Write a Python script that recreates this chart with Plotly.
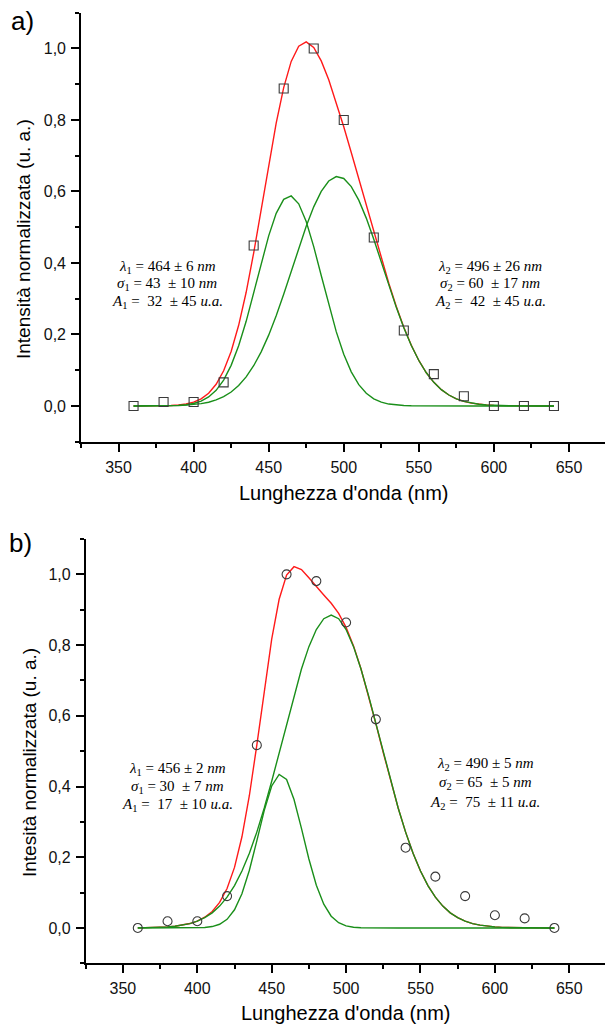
import plotly.graph_objects as go

W, H = 605, 1025

# ---------------- data ----------------
wl_pts = [360, 380, 400, 420, 440, 460, 480, 500, 520, 540, 560, 580, 600, 620, 640]
a_pts = [0.000, 0.011, 0.011, 0.066, 0.449, 0.888, 1.000, 0.800, 0.471, 0.211, 0.089, 0.027, 0.000, 0.000, 0.000]
b_pts = [0.000, 0.019, 0.019, 0.090, 0.517, 1.000, 0.981, 0.864, 0.590, 0.227, 0.145, 0.090, 0.036, 0.027, 0.000]

wl_fit = [360, 365, 370, 375, 380, 385, 390, 395, 400, 405, 410, 415, 420, 425, 430, 435, 440, 445, 450,
          455, 460, 465, 470, 475, 480, 485, 490, 495, 500, 505, 510, 515, 520, 525, 530, 535, 540, 545,
          550, 555, 560, 565, 570, 575, 580, 585, 590, 595, 600, 605, 610, 615, 620, 625, 630, 635, 640]

a_g1 = [0.0000, 0.0000, 0.0000, 0.0001, 0.0003, 0.0007, 0.0016, 0.0034, 0.0070, 0.0136, 0.0251, 0.0438,
        0.0724, 0.1135, 0.1685, 0.2367, 0.3153, 0.3979, 0.4757, 0.5387, 0.5779, 0.5874, 0.5655, 0.5159,
        0.4458, 0.3649, 0.2830, 0.2079, 0.1447, 0.0954, 0.0596, 0.0353, 0.0198, 0.0105, 0.0053, 0.0025,
        0.0011, 0.0005, 0.0002, 0.0001, 0.0000, 0.0000, 0.0000, 0.0000, 0.0000, 0.0000, 0.0000, 0.0000,
        0.0000, 0.0000, 0.0000, 0.0000, 0.0000, 0.0000, 0.0000, 0.0000, 0.0000]
a_g2 = [0.0000, 0.0000, 0.0001, 0.0002, 0.0004, 0.0007, 0.0013, 0.0022, 0.0038, 0.0064, 0.0105, 0.0168,
        0.0259, 0.0390, 0.0571, 0.0813, 0.1125, 0.1513, 0.1981, 0.2523, 0.3125, 0.3764, 0.4410, 0.5025,
        0.5569, 0.6003, 0.6293, 0.6416, 0.6363, 0.6137, 0.5757, 0.5254, 0.4662, 0.4024, 0.3378, 0.2758,
        0.2190, 0.1691, 0.1271, 0.0928, 0.0660, 0.0456, 0.0306, 0.0200, 0.0127, 0.0079, 0.0047, 0.0028,
        0.0016, 0.0009, 0.0005, 0.0002, 0.0001, 0.0001, 0.0000, 0.0000, 0.0000]
a_fit = [0.0000, 0.0000, 0.0001, 0.0003, 0.0007, 0.0014, 0.0029, 0.0056, 0.0108, 0.0200, 0.0356, 0.0606,
         0.0983, 0.1525, 0.2256, 0.3180, 0.4278, 0.5492, 0.6738, 0.7910, 0.8904, 0.9638, 1.0065, 1.0184,
         1.0027, 0.9652, 0.9123, 0.8495, 0.7810, 0.7091, 0.6353, 0.5607, 0.4860, 0.4129, 0.3431, 0.2783,
         0.2201, 0.1696, 0.1273, 0.0929, 0.0660, 0.0456, 0.0306, 0.0200, 0.0127, 0.0079, 0.0047, 0.0028,
         0.0016, 0.0009, 0.0005, 0.0002, 0.0001, 0.0001, 0.0000, 0.0000, 0.0000]

b_g1 = [0.0000, 0.0000, 0.0000, 0.0000, 0.0000, 0.0000, 0.0000, 0.0001, 0.0004, 0.0013, 0.0039, 0.0104,
        0.0244, 0.0514, 0.0969, 0.1633, 0.2463, 0.3324, 0.4016, 0.4340, 0.4198, 0.3633, 0.2814, 0.1950,
        0.1209, 0.0671, 0.0333, 0.0148, 0.0059, 0.0021, 0.0007, 0.0002, 0.0001, 0.0000, 0.0000, 0.0000,
        0.0000, 0.0000, 0.0000, 0.0000, 0.0000, 0.0000, 0.0000, 0.0000, 0.0000, 0.0000, 0.0000, 0.0000,
        0.0000, 0.0000, 0.0000, 0.0000, 0.0000, 0.0000, 0.0000, 0.0000, 0.0000]
b_g2 = [0.0003, 0.0005, 0.0010, 0.0017, 0.0029, 0.0048, 0.0078, 0.0123, 0.0191, 0.0290, 0.0427, 0.0617,
        0.0870, 0.1198, 0.1610, 0.2113, 0.2710, 0.3393, 0.4150, 0.4956, 0.5780, 0.6584, 0.7323, 0.7956,
        0.8441, 0.8746, 0.8850, 0.8746, 0.8441, 0.7956, 0.7323, 0.6584, 0.5780, 0.4956, 0.4150, 0.3393,
        0.2710, 0.2113, 0.1610, 0.1198, 0.0870, 0.0617, 0.0427, 0.0290, 0.0191, 0.0123, 0.0078, 0.0048,
        0.0029, 0.0017, 0.0010, 0.0005, 0.0003, 0.0002, 0.0001, 0.0000, 0.0000]
b_fit = [0.0003, 0.0005, 0.0010, 0.0017, 0.0029, 0.0048, 0.0078, 0.0124, 0.0195, 0.0303, 0.0466, 0.0721,
         0.1114, 0.1712, 0.2579, 0.3746, 0.5173, 0.6717, 0.8166, 0.9296, 0.9978, 1.0217, 1.0137, 0.9906,
         0.9650, 0.9417, 0.9183, 0.8894, 0.8500, 0.7977, 0.7330, 0.6586, 0.5781, 0.4956, 0.4150, 0.3393,
         0.2710, 0.2113, 0.1610, 0.1198, 0.0870, 0.0617, 0.0427, 0.0290, 0.0191, 0.0123, 0.0078, 0.0048,
         0.0029, 0.0017, 0.0010, 0.0005, 0.0003, 0.0002, 0.0001, 0.0000, 0.0000]

y_ticks = [0.0, 0.2, 0.4, 0.6, 0.8, 1.0]
x_ticks = [350, 400, 450, 500, 550, 600, 650]

x_title = "Lunghezza d'onda (nm)"
a_ytitle = "Intensità normalizzata (u. a.)"
b_ytitle = "Intesità normalizzata (u. a.)"
NB = "\u00a0"
a_left = ["<i>λ</i><sub>1</sub> = 464 ± 6 <i>nm</i>",
          "<i>σ</i><sub>1</sub> = 43 " + NB + "± 10 <i>nm</i>",
          "<i>A</i><sub>1</sub> = " + NB + "32 " + NB + "± 45 <i>u.a.</i>"]
a_right = ["<i>λ</i><sub>2</sub> = 496 ± 26 <i>nm</i>",
           "<i>σ</i><sub>2</sub> = 60 " + NB + "± 17 <i>nm</i>",
           "<i>A</i><sub>2</sub> = " + NB + "42 " + NB + "± 45 <i>u.a.</i>"]
b_left = ["<i>λ</i><sub>1</sub> = 456 ± 2 <i>nm</i>",
          "<i>σ</i><sub>1</sub> = 30 " + NB + "± 7 <i>nm</i>",
          "<i>A</i><sub>1</sub> = " + NB + "17 " + NB + "± 10 <i>u.a.</i>"]
b_right = ["<i>λ</i><sub>2</sub> = 490 ± 5 <i>nm</i>",
           "<i>σ</i><sub>2</sub> = 65 " + NB + "± 5 <i>nm</i>",
           "<i>A</i><sub>2</sub> = " + NB + "75 " + NB + "± 11 <i>u.a.</i>"]

# ---------------- style ----------------
RED = "#ff1a1a"
GREEN = "#1a8f1a"
MK = "#3a3a3a"
SANS = "Liberation Sans, Arial, sans-serif"
SERIF = "Liberation Serif, Times New Roman, serif"


def px(xp):
    return xp / W


def py(yp):
    return 1 - yp / H


fig = go.Figure()

for xa, ya, fit, g1, g2, pts, sym in [("x", "y", a_fit, a_g1, a_g2, a_pts, "square-open"),
                                       ("x2", "y2", b_fit, b_g1, b_g2, b_pts, "circle-open")]:
    fig.add_trace(go.Scatter(x=wl_fit, y=fit, mode="lines", line=dict(color=RED, width=1.4),
                             xaxis=xa, yaxis=ya, hoverinfo="skip"))
    fig.add_trace(go.Scatter(x=wl_fit, y=g1, mode="lines", line=dict(color=GREEN, width=1.4),
                             xaxis=xa, yaxis=ya, hoverinfo="skip"))
    fig.add_trace(go.Scatter(x=wl_fit, y=g2, mode="lines", line=dict(color=GREEN, width=1.4),
                             xaxis=xa, yaxis=ya, hoverinfo="skip"))
    fig.add_trace(go.Scatter(x=wl_pts, y=pts, mode="markers",
                             marker=dict(symbol=sym, size=9, color=MK, line=dict(color=MK, width=1.1)),
                             xaxis=xa, yaxis=ya))


def xaxis_cfg(dom_left, anchor):
    return dict(domain=[px(dom_left), 1.0], range=[325, 674], anchor=anchor,
                showline=True, linecolor="black", linewidth=1.6, mirror=False,
                ticks="outside", ticklen=8, tickwidth=1.5, tickcolor="black",
                tickvals=x_ticks, ticklabelstandoff=2,
                minor=dict(dtick=25, tick0=325, ticks="outside", ticklen=4, tickwidth=1.5, tickcolor="black"),
                showgrid=False, zeroline=False,
                tickfont=dict(family=SANS, size=16, color="#111"))


def yaxis_cfg(top, bottom, anchor):
    return dict(domain=[py(bottom), py(top)], range=[-0.1, 1.1], anchor=anchor,
                showline=True, linecolor="black", linewidth=1.6, mirror=False,
                ticks="outside", ticklen=8, tickwidth=1.5, tickcolor="black",
                tickvals=y_ticks, tickformat=".1f", ticklabelstandoff=2,
                minor=dict(dtick=0.1, tick0=-0.1, ticks="outside", ticklen=4, tickwidth=1.5, tickcolor="black"),
                showgrid=False, zeroline=False,
                tickfont=dict(family=SANS, size=16, color="#111"))


ann = []


def add_text(text, x, y, size, family=SANS, angle=0):
    ann.append(dict(text=text, x=px(x), y=py(y), xref="paper", yref="paper",
                    xanchor="center", yanchor="middle", showarrow=False, textangle=angle,
                    font=dict(family=family, size=size, color="black")))


# panel a
add_text("a)", 23, 21, 26)
add_text(a_ytitle, 24, 239, 19, angle=-90)
add_text(x_title, 344, 493, 20)
for t, yy in zip(a_left, [266.5, 284.3, 302]):
    add_text(t, 167, yy, 15, SERIF)
for t, yy in zip(a_right, [266.7, 284.3, 302.3]):
    add_text(t, 490, yy, 15, SERIF)

# panel b
add_text("b)", 20, 543, 26)
add_text(b_ytitle, 29, 763, 19, angle=-90)
add_text(x_title, 346, 1013, 20)
for t, yy in zip(b_left, [769, 786.7, 805]):
    add_text(t, 177, yy, 15, SERIF)
for t, yy in zip(b_right, [764, 783.3, 802.5]):
    add_text(t, 485, yy, 15, SERIF)

fig.update_layout(
    width=W, height=H, autosize=False,
    margin=dict(l=0, r=0, t=0, b=0),
    paper_bgcolor="white", plot_bgcolor="white",
    showlegend=False, separators=", ",
    xaxis=xaxis_cfg(81, "y"),
    yaxis=yaxis_cfg(12.7, 441.7, "x"),
    xaxis2=xaxis_cfg(85.7, "y2"),
    yaxis2=yaxis_cfg(539, 963.3, "x2"),
    annotations=ann,
)

fig.write_html("out.html")
